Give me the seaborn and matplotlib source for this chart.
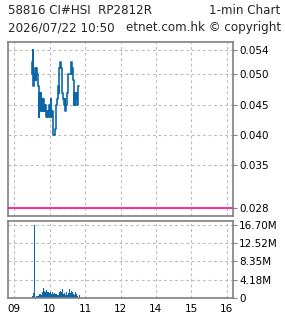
import numpy as np
import pandas as pd
import matplotlib
matplotlib.use("Agg")
import matplotlib.pyplot as plt
import seaborn as sns

# ---- data ----
title_left = "58816 CI#HSI  RP2812R"
title_right = "1-min Chart"
subtitle_left = "2026/07/22 10:50"
subtitle_right = "etnet.com.hk \u00a9 copyright"

start_minute = 9 * 60 + 30  # 09:30
price = [0.052, 0.050, 0.054, 0.048, 0.050, 0.049, 0.051, 0.049, 0.051, 0.050,
         0.048, 0.048, 0.043, 0.047, 0.044, 0.047, 0.046, 0.044, 0.046, 0.044,
         0.046, 0.045, 0.044, 0.045, 0.044, 0.043, 0.044, 0.044, 0.043, 0.044,
         0.045, 0.043, 0.046, 0.044, 0.043, 0.044, 0.040, 0.040, 0.040, 0.040,
         0.041, 0.045, 0.045, 0.046, 0.046, 0.048, 0.047, 0.051, 0.052, 0.051,
         0.051, 0.051, 0.047, 0.046, 0.046, 0.045, 0.046, 0.044, 0.045, 0.046,
         0.047, 0.048, 0.050, 0.050, 0.050, 0.050, 0.050, 0.052, 0.050, 0.051,
         0.049, 0.045, 0.047, 0.045, 0.046, 0.047, 0.045, 0.045, 0.045, 0.048,
         0.048]
volume_m = [0.2, 0.4, 0.6, 1.1, 16.7, 0.3, 0.2, 0.3, 0.4, 0.3,
            0.5, 0.3, 0.8, 0.4, 0.5, 0.9, 0.6, 0.7, 1.2, 2.2,
            1.6, 1.1, 1.5, 1.3, 0.9, 1.8, 1.2, 1.0, 1.4, 1.1,
            0.9, 1.3, 0.7, 0.9, 1.2, 1.0, 0.6, 0.8, 1.0, 0.7,
            0.8, 0.6, 0.9, 0.5, 0.7, 0.6, 1.3, 0.9, 1.5, 1.1,
            1.4, 2.0, 1.2, 0.9, 0.8, 1.0, 0.6, 0.7, 1.2, 0.9,
            0.6, 1.8, 1.0, 2.1, 1.4, 1.0, 0.8, 1.5, 0.9, 1.3,
            0.8, 0.4, 0.6, 1.2, 0.5, 0.6, 0.8, 0.4, 0.3, 0.2,
            0.7]
prev_close = 0.028
price_ticks = [0.054, 0.050, 0.045, 0.040, 0.035, 0.028]
vol_ticks = [0, 4.18e6, 8.35e6, 12.52e6, 16.70e6]
vol_tick_labels = ["0", "4.18M", "8.35M", "12.52M", "16.70M"]
hour_labels = ["09", "10", "11", "12", "14", "15", "16"]
hour_pos = [9, 10, 11, 12, 13, 14, 15]  # lunch break collapsed

# ---- frame ----
n = len(price)
t = [9.5 + i / 60 for i in range(n)]
df = pd.DataFrame({"t": t, "price": price, "volume": [v * 1e6 for v in volume_m]})

sns.set_style("white")
plt.rcParams["font.family"] = ["DejaVu Sans"]

fig = plt.figure(figsize=(2.85, 3.18), dpi=100)
ax1 = fig.add_axes([8.3 / 285, 1 - 216 / 318, (232.7 - 8.3) / 285, (216 - 42.3) / 318])
ax2 = fig.add_axes([8.3 / 285, 1 - 297.7 / 318, (232.7 - 8.3) / 285, (297.7 - 220.7) / 318])

line_col = "#0b66a8"
sns.lineplot(data=df, x="t", y="price", ax=ax1, color=line_col, linewidth=1.2,
             drawstyle="steps-mid")
ax1.axhline(prev_close, color="#ff0a8c", linewidth=1.2, zorder=3)

sns.barplot(data=df, x="t", y="volume", ax=ax2, native_scale=True, color=line_col,
            width=1.6, errorbar=None, linewidth=0, saturation=1)

xmin = 9 - 6 / 35.5
xmax = 15 + 6 / 35.5
grid_kw = dict(color="#bcbcbc", linestyle=(0, (2.5, 2.5)), linewidth=0.8)
spine_col = "#808080"

for ax in (ax1, ax2):
    ax.set_xlim(xmin, xmax)
    ax.set_xlabel("")
    ax.set_ylabel("")
    ax.set_xticks(hour_pos)
    ax.yaxis.tick_right()
    for sp in ax.spines.values():
        sp.set_color(spine_col)
        sp.set_linewidth(1.2)
    ax.grid(True, **grid_kw)
    ax.set_axisbelow(True)
    ax.tick_params(axis="both", colors="black", labelsize=7.5, length=3,
                   width=0.8, pad=1.5, direction="out")
    ax.tick_params(axis="both", color=spine_col)

ax1.set_ylim(0.02668, 0.05527)
ax1.set_yticks(price_ticks)
ax1.set_yticklabels([f"{v:.3f}" for v in price_ticks])
ax1.tick_params(axis="x", labelbottom=False, length=0)

ax2.set_ylim(0, 17.69e6)
ax2.set_yticks(vol_ticks)
ax2.set_yticklabels(vol_tick_labels)
ax2.set_xticklabels(hour_labels)

fs = 8.6
fig.text(8 / 285, 1 - 11 / 318, title_left, fontsize=fs, va="center", ha="left")
fig.text(280 / 285, 1 - 11 / 318, title_right, fontsize=fs, va="center", ha="right")
fig.text(8 / 285, 1 - 28 / 318, subtitle_left, fontsize=fs, va="center", ha="left")
fig.text(281 / 285, 1 - 28 / 318, subtitle_right, fontsize=fs, va="center", ha="right")

fig.savefig("out.png", dpi=100, facecolor="white")
